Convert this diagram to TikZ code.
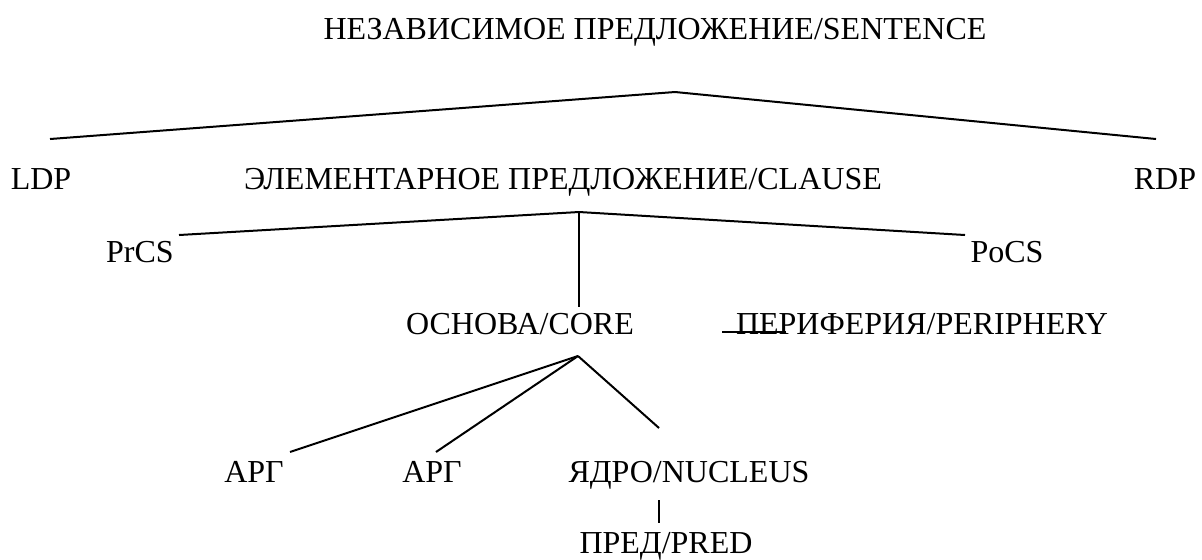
\documentclass[tikz,border=0pt]{standalone}
\usepackage{fontspec}
\setmainfont{Liberation Serif}
\tikzset{
  lbl/.style={anchor=base, inner sep=0pt, font=\fontsize{16}{19}\selectfont},
  branch/.style={line width=1pt},
  stem/.style={line width=0.7pt},
}
\begin{document}
\begin{tikzpicture}[x=0.5pt, y=-0.5pt]
  \useasboundingbox (0,0) rectangle (1202,559);

  % Sentence level
  \node[lbl] (sentence) at (655,39) {НЕЗАВИСИМОЕ ПРЕДЛОЖЕНИЕ/SENTENCE};
  \coordinate (sTop) at (675,92);
  \coordinate (sLeft) at (50,139);
  \coordinate (sRight) at (1156,139);
  \draw[branch] (sLeft) -- (sTop) -- (sRight);

  \node[lbl] (ldp) at (41,189) {LDP};
  \node[lbl] (clause) at (563,189) {ЭЛЕМЕНТАРНОЕ ПРЕДЛОЖЕНИЕ/CLAUSE};
  \node[lbl] (rdp) at (1165,189) {RDP};

  % Clause level
  \coordinate (cTop) at (579,212);
  \coordinate (cLeft) at (179,235);
  \coordinate (cRight) at (965,235);
  \coordinate (cDown) at (579,307);
  \draw[branch] (cLeft) -- (cTop) -- (cRight);
  \draw[stem] (cTop) -- (cDown);

  \node[lbl] (prcs) at (140,262) {PrCS};
  \node[lbl] (pocs) at (1007,262) {PoCS};

  % Core and periphery
  \node[lbl] (core) at (520,334) {ОСНОВА/CORE};
  \node[lbl] (periph) at (922,334) {ПЕРИФЕРИЯ/PERIPHERY};
  \coordinate (pA) at (722,332);
  \coordinate (pB) at (786,332);
  \draw[branch] (pA) -- (pB);

  % Core level
  \coordinate (kTop) at (578,356);
  \coordinate (arg1) at (290,452);
  \coordinate (arg2) at (436,452);
  \coordinate (nuc) at (659,428);
  \draw[branch] (kTop) -- (arg1);
  \draw[branch] (kTop) -- (arg2);
  \draw[branch] (kTop) -- (nuc);

  \node[lbl] (argA) at (254,482) {АРГ};
  \node[lbl] (argB) at (432,482) {АРГ};
  \node[lbl] (nucleus) at (689,482) {ЯДРО/NUCLEUS};

  % Nucleus - predicate
  \coordinate (nA) at (659,500);
  \coordinate (nB) at (659,523);
  \draw[stem] (nA) -- (nB);
  \node[lbl] (pred) at (666,553) {ПРЕД/PRED};
\end{tikzpicture}
\end{document}
